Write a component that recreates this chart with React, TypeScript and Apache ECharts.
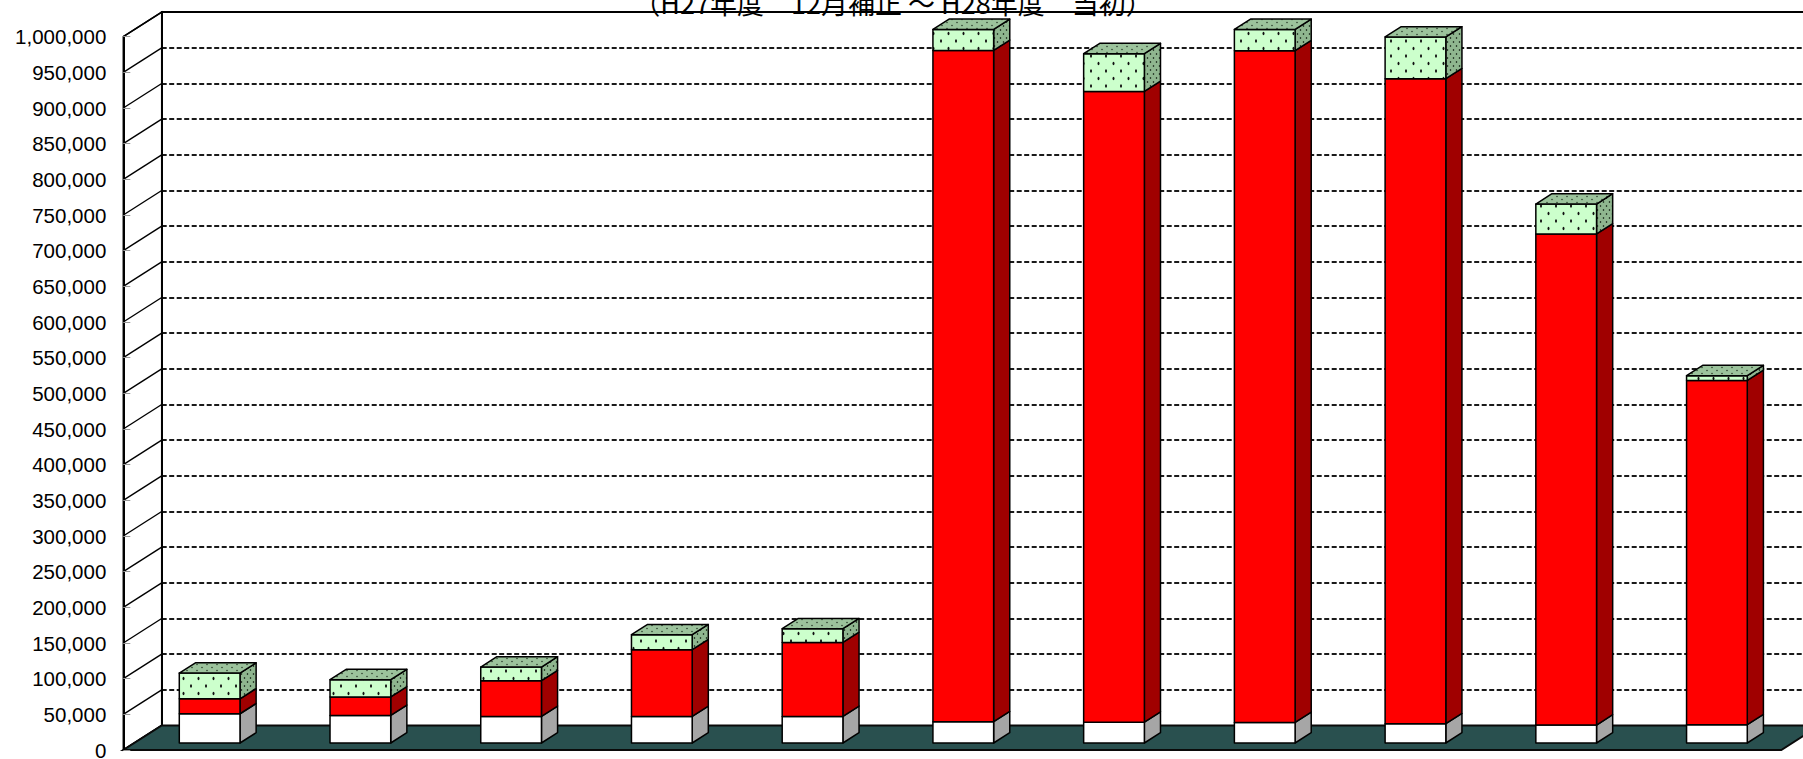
import React, { useEffect, useRef } from 'react';
import * as echarts from 'echarts';

// ---- data ----
const categories = ['1', '2', '3', '4', '5', '6', '7', '8', '9', '10', '11'];
const baseValues = [41000, 38700, 37300, 37300, 37300, 29900, 29200, 28900, 27000, 25200, 25700];
const midValues = [21000, 25800, 50000, 93500, 103700, 941100, 884300, 941700, 904300, 688400, 482600];
const topValues = [36000, 24300, 19200, 21000, 19200, 29400, 52900, 29800, 58500, 42000, 6700];
const yTickValues = [
  0, 50000, 100000, 150000, 200000, 250000, 300000, 350000, 400000, 450000, 500000,
  550000, 600000, 650000, 700000, 750000, 800000, 850000, 900000, 950000, 1000000,
];
const titleText = '（H27年度　12月補正 ～ H28年度　当初）';

// ---- geometry of the pseudo-3D frame ----
const DEPTH = [38.4, -24.5];
const BAR_D0 = 0.286;
const BAR_D1 = 0.706;
const BAR_RATIO = 0.4028;

function dotPattern(bg: string, dot: string, w: number, h: number, dots: number[][]) {
  const c = document.createElement('canvas');
  c.width = w;
  c.height = h;
  const g = c.getContext('2d')!;
  g.fillStyle = bg;
  g.fillRect(0, 0, w, h);
  g.fillStyle = dot;
  dots.forEach(([x, y, rx, ry]) => {
    g.beginPath();
    g.ellipse(x, y, rx, ry, 0, 0, Math.PI * 2);
    g.fill();
  });
  return { image: c.toDataURL(), repeat: 'repeat', imageWidth: w, imageHeight: h };
}

function makeBarRender(frontFill: any, sideFill: any, topFill: any) {
  return (params: any, api: any) => {
    const i = api.value(0);
    const v0 = api.value(1);
    const v1 = api.value(2);
    const p0 = api.coord([i, v0]);
    const p1 = api.coord([i, v1]);
    const bw = api.size([1, 0])[0] * BAR_RATIO;
    const ox0 = BAR_D0 * DEPTH[0];
    const oy0 = BAR_D0 * DEPTH[1];
    const dx = (BAR_D1 - BAR_D0) * DEPTH[0];
    const dy = (BAR_D1 - BAR_D0) * DEPTH[1];
    const L = p0[0] - bw / 2 + ox0;
    const R = L + bw;
    const yb = p0[1] + oy0;
    const yt = p1[1] + oy0;
    const stroke = { stroke: '#000', lineWidth: 1.5, lineJoin: 'round' };
    const children: any[] = [
      {
        type: 'polygon',
        shape: { points: [[R, yb], [R + dx, yb + dy], [R + dx, yt + dy], [R, yt]] },
        style: { fill: sideFill, ...stroke },
      },
      {
        type: 'rect',
        shape: { x: L, y: yt, width: bw, height: yb - yt },
        style: { fill: frontFill, ...stroke },
      },
    ];
    if (topFill) {
      children.push({
        type: 'polygon',
        shape: { points: [[L, yt], [R, yt], [R + dx, yt + dy], [L + dx, yt + dy]] },
        style: { fill: topFill, ...stroke },
      });
    }
    return { type: 'group', children };
  };
}

function structureRender(params: any, api: any) {
  const cs = params.coordSys;
  const [Dx, Dy] = DEPTH;
  const left = cs.x;
  const right = cs.x + cs.width;
  const y0 = api.coord([0, 0])[1];
  const yTop = api.coord([0, yTickValues[yTickValues.length - 1]])[1];
  const children: any[] = [
    {
      type: 'polygon',
      shape: { points: [[left, yTop], [left + Dx, yTop + Dy], [left + Dx, y0 + Dy], [left, y0]] },
      style: { fill: '#ffffff', stroke: '#000', lineWidth: 1.5 },
    },
  ];
  yTickValues.forEach((v) => {
    const y = api.coord([0, v])[1];
    children.push({
      type: 'line',
      shape: { x1: left, y1: y, x2: left + Dx, y2: y + Dy },
      style: { stroke: '#000', lineWidth: 1.4 },
    });
  });
  children.push({
    type: 'polygon',
    shape: { points: [[left, y0], [right, y0], [right + Dx, y0 + Dy], [left + Dx, y0 + Dy]] },
    style: { fill: '#29504f', stroke: '#0a0a0a', lineWidth: 2 },
  });
  return { type: 'group', children };
}

export default function App() {
  const ref = useRef<HTMLDivElement>(null);

  useEffect(() => {
    document.body.style.margin = '0';
    if (!ref.current) return;
    const chart = echarts.init(ref.current, null, { renderer: 'svg' });

    const greenFront = dotPattern('#ccffcc', '#111111', 15, 15, [[3.5, 3.5, 1, 1.8], [11, 11, 1, 1.8]]);
    const greenTop = dotPattern('#9cc39c', '#253525', 10, 6, [[2, 1.5, 0.75, 0.75], [7, 4.5, 0.75, 0.75]]);
    const greenSide = dotPattern('#8fb68f', '#253525', 6, 8, [[1.5, 2, 0.75, 0.95], [4.5, 6, 0.75, 0.95]]);

    const baseData = categories.map((_, i) => [i, 0, baseValues[i]]);
    const midData = categories.map((_, i) => [i, baseValues[i], baseValues[i] + midValues[i]]);
    const topData = categories.map((_, i) => [
      i,
      baseValues[i] + midValues[i],
      baseValues[i] + midValues[i] + topValues[i],
    ]);

    const option: any = {
      animation: false,
      backgroundColor: '#ffffff',
      graphic: [
        {
          type: 'text',
          x: 893,
          y: 2,
          z: 100,
          style: {
            text: titleText,
            fill: '#000',
            fontSize: 27,
            fontFamily: '"Noto Sans CJK JP", sans-serif',
            align: 'center',
            verticalAlign: 'middle',
          },
        },
      ],
      grid: [
        { left: 123.3, top: 36.7, width: 1658, height: 713.3, containLabel: false, outerBoundsMode: 'none' },
        { left: 161.7, top: 12.2, width: 1658, height: 713.3, containLabel: false, outerBoundsMode: 'none' },
      ],
      xAxis: [
        {
          type: 'category',
          gridIndex: 0,
          data: categories,
          axisLine: { show: false },
          axisTick: { show: false },
          axisLabel: { show: false },
          splitLine: { show: false },
        },
        {
          type: 'category',
          gridIndex: 1,
          data: categories,
          position: 'top',
          axisLine: { show: true, onZero: false, lineStyle: { color: '#000', width: 2 } },
          axisTick: { show: false },
          axisLabel: { show: false },
          splitLine: { show: false },
        },
      ],
      yAxis: [
        {
          type: 'value',
          gridIndex: 0,
          min: 0,
          max: 1000000,
          interval: 50000,
          z: 10,
          axisLine: { show: true, lineStyle: { color: '#000', width: 2 } },
          axisTick: { show: true, inside: true, length: 7, lineStyle: { color: '#999', width: 1 } },
          axisLabel: {
            margin: 17,
            color: '#000',
            fontSize: 20.5,
            fontFamily: '"Liberation Sans", Arial, sans-serif',
            formatter: (v: number) => v.toLocaleString('en-US'),
          },
          splitLine: { show: false },
        },
        {
          type: 'value',
          gridIndex: 1,
          min: 0,
          max: 1000000,
          interval: 50000,
          axisLine: { show: true, lineStyle: { color: '#000', width: 2 } },
          axisTick: { show: false },
          axisLabel: { show: false },
          splitLine: {
            show: true,
            showMinLine: false,
            showMaxLine: false,
            lineStyle: { color: '#1a1a1a', width: 1.8, type: [5, 2.5] },
          },
        },
      ],
      series: [
        {
          type: 'custom',
          name: 'frame',
          xAxisIndex: 0,
          yAxisIndex: 0,
          silent: true,
          z: 1,
          data: [[0, 0]],
          renderItem: structureRender,
        },
        {
          type: 'custom',
          name: 'base',
          xAxisIndex: 0,
          yAxisIndex: 0,
          z: 3,
          data: baseData,
          renderItem: makeBarRender('#ffffff', '#a6a6a6', null),
        },
        {
          type: 'custom',
          name: 'mid',
          xAxisIndex: 0,
          yAxisIndex: 0,
          z: 4,
          data: midData,
          renderItem: makeBarRender('#ff0000', '#a00000', null),
        },
        {
          type: 'custom',
          name: 'top',
          xAxisIndex: 0,
          yAxisIndex: 0,
          z: 5,
          data: topData,
          renderItem: makeBarRender(greenFront, greenSide, greenTop),
        },
      ],
    };

    chart.setOption(option);
    return () => {
      chart.dispose();
    };
  }, []);

  return <div ref={ref} style={{ width: 1803, height: 759 }} />;
}
